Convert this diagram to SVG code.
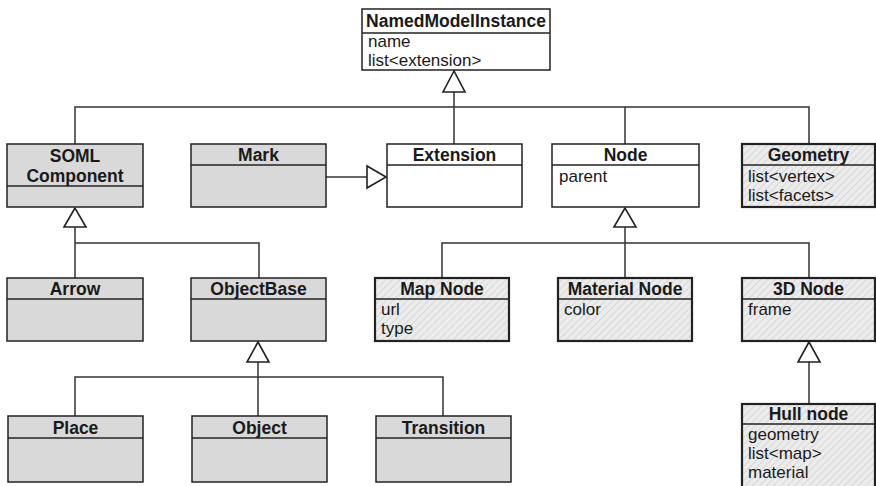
<svg xmlns="http://www.w3.org/2000/svg" width="876" height="486" viewBox="0 0 876 486">
  <defs>
    <pattern id="hatch" width="5" height="5" patternUnits="userSpaceOnUse" patternTransform="rotate(45)">
      <rect width="5" height="5" fill="#ececec"/>
      <line x1="0" y1="0" x2="0" y2="5" stroke="#d2d2d2" stroke-width="1.6"/>
    </pattern>
  </defs>
  <style>
    .box { stroke: #222; stroke-width: 1.5; }
    .plain { fill: #ffffff; }
    .grey { fill: #d9d9d9; }
    .hatched { fill: url(#hatch); stroke-width: 2.2; }
    .sep { stroke: #222; stroke-width: 1.5; }
    .title { font-family: "Liberation Sans", Arial, sans-serif; font-weight: bold; font-size: 17.5px; fill: #1a1a1a; text-anchor: middle; }
    .attr { font-family: "Liberation Sans", Arial, sans-serif; font-size: 17px; fill: #1a1a1a; }
    .conn { fill: none; stroke: #333; stroke-width: 1.5; }
    .head { fill: #ffffff; stroke: #222; stroke-width: 1.6; stroke-linejoin: miter; }
  </style>

  <!-- generalisation connectors -->
  <g id="connectors">
    <!-- NamedModelInstance subtypes -->
    <path class="conn" d="M75 144 V107 H809 V144 M625 107 V144 M454 92 V144"/>
    <polygon class="head" points="454,71 443,92 465,92"/>
    <!-- Mark realises Extension -->
    <path class="conn" d="M326 177 H367"/>
    <polygon class="head" points="386,177 367,166 367,188"/>
    <!-- SOML Component subtypes -->
    <path class="conn" d="M75 227 V278 M75 243 H259 V278"/>
    <polygon class="head" points="75,208 64,227 86,227"/>
    <!-- Node subtypes -->
    <path class="conn" d="M625 227 V278 M442 278 V243 H809 V278"/>
    <polygon class="head" points="625,208 614,227 636,227"/>
    <!-- ObjectBase subtypes -->
    <path class="conn" d="M258 362 V416 M75 416 V377 H443 V416"/>
    <polygon class="head" points="258,342 247,362 269,362"/>
    <!-- 3D Node subtype -->
    <path class="conn" d="M809 362 V404"/>
    <polygon class="head" points="809,342 798,362 820,362"/>
  </g>

  <g id="named-model-instance">
    <rect class="box plain" x="362" y="9" width="188" height="61"/>
    <line class="sep" x1="362" y1="33" x2="550" y2="33"/>
    <text class="title" x="456" y="27">NamedModelInstance</text>
    <text class="attr" x="368" y="47">name</text>
    <text class="attr" x="368" y="66">list&lt;extension&gt;</text>
  </g>

  <g id="soml-component">
    <rect class="box grey" x="7" y="144" width="136" height="63"/>
    <line class="sep" x1="7" y1="186" x2="143" y2="186"/>
    <text class="title" x="75" y="162">SOML</text>
    <text class="title" x="75" y="182">Component</text>
  </g>

  <g id="mark">
    <rect class="box grey" x="191" y="144" width="135" height="63"/>
    <line class="sep" x1="191" y1="165" x2="326" y2="165"/>
    <text class="title" x="258.5" y="161">Mark</text>
  </g>

  <g id="extension">
    <rect class="box plain" x="387" y="144" width="135" height="63"/>
    <line class="sep" x1="387" y1="165" x2="522" y2="165"/>
    <text class="title" x="454.5" y="161">Extension</text>
  </g>

  <g id="node">
    <rect class="box plain" x="552" y="144" width="147" height="63"/>
    <line class="sep" x1="552" y1="165" x2="699" y2="165"/>
    <text class="title" x="625.5" y="161">Node</text>
    <text class="attr" x="559" y="182">parent</text>
  </g>

  <g id="geometry">
    <rect class="box hatched" x="742" y="144" width="133" height="63"/>
    <line class="sep" x1="742" y1="165" x2="875" y2="165"/>
    <text class="title" x="808.5" y="161">Geometry</text>
    <text class="attr" x="748" y="182">list&lt;vertex&gt;</text>
    <text class="attr" x="748" y="201">list&lt;facets&gt;</text>
  </g>

  <g id="arrow">
    <rect class="box grey" x="7" y="278" width="136" height="63"/>
    <line class="sep" x1="7" y1="299" x2="143" y2="299"/>
    <text class="title" x="75" y="295">Arrow</text>
  </g>

  <g id="object-base">
    <rect class="box grey" x="191" y="278" width="135" height="63"/>
    <line class="sep" x1="191" y1="299" x2="326" y2="299"/>
    <text class="title" x="258.5" y="295">ObjectBase</text>
  </g>

  <g id="map-node">
    <rect class="box hatched" x="375" y="278" width="134" height="63"/>
    <line class="sep" x1="375" y1="299" x2="509" y2="299"/>
    <text class="title" x="442" y="295">Map Node</text>
    <text class="attr" x="381" y="315">url</text>
    <text class="attr" x="381" y="334">type</text>
  </g>

  <g id="material-node">
    <rect class="box hatched" x="558" y="278" width="134" height="63"/>
    <line class="sep" x1="558" y1="299" x2="692" y2="299"/>
    <text class="title" x="625" y="295">Material Node</text>
    <text class="attr" x="564" y="315">color</text>
  </g>

  <g id="node-3d">
    <rect class="box hatched" x="742" y="278" width="133" height="63"/>
    <line class="sep" x1="742" y1="299" x2="875" y2="299"/>
    <text class="title" x="808.5" y="295">3D Node</text>
    <text class="attr" x="748" y="315">frame</text>
  </g>

  <g id="place">
    <rect class="box grey" x="8" y="416" width="135" height="66"/>
    <line class="sep" x1="8" y1="438" x2="143" y2="438"/>
    <text class="title" x="75.5" y="434">Place</text>
  </g>

  <g id="object">
    <rect class="box grey" x="192" y="416" width="135" height="66"/>
    <line class="sep" x1="192" y1="438" x2="327" y2="438"/>
    <text class="title" x="259.5" y="434">Object</text>
  </g>

  <g id="transition">
    <rect class="box grey" x="376" y="416" width="135" height="66"/>
    <line class="sep" x1="376" y1="438" x2="511" y2="438"/>
    <text class="title" x="443.5" y="434">Transition</text>
  </g>

  <g id="hull-node">
    <rect class="box hatched" x="742" y="404" width="133" height="92"/>
    <line class="sep" x1="742" y1="424" x2="875" y2="424"/>
    <text class="title" x="808.5" y="420">Hull node</text>
    <text class="attr" x="748" y="440">geometry</text>
    <text class="attr" x="748" y="459">list&lt;map&gt;</text>
    <text class="attr" x="748" y="478">material</text>
  </g>
</svg>
